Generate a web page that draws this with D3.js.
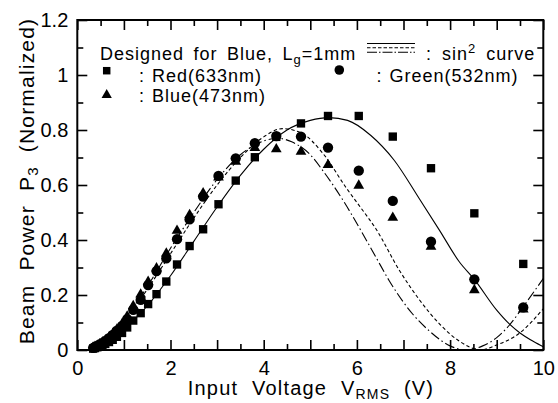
<!DOCTYPE html>
<html>
<head>
<meta charset="utf-8">
<script src="https://cdn.jsdelivr.net/npm/d3@7"></script>
<style>
  body { margin: 0; background: #fff; }
  text { font-family: Arial, "Liberation Sans", sans-serif; fill: #000; }
</style>
</head>
<body>
<svg id="chart"></svg>
<script>
// measured voltages (V rms), shared by the three colours
let volts = [0.34, 0.38, 0.43, 0.48, 0.54, 0.60, 0.68, 0.76, 0.85, 0.96, 1.07, 1.20, 1.36, 1.52, 1.70,
             1.91, 2.14, 2.41, 2.70, 3.03, 3.40, 3.81, 4.27, 4.80, 5.38, 6.04, 6.77, 7.59, 8.52, 9.57]
let redPower = [0.005, 0.007, 0.010, 0.013, 0.017, 0.022, 0.029, 0.037, 0.048, 0.062, 0.082, 0.107, 0.134, 0.167, 0.203,
                0.249, 0.311, 0.378, 0.439, 0.530, 0.616, 0.701, 0.775, 0.824, 0.851, 0.851, 0.776, 0.661, 0.497, 0.313]
let greenPower = [0.008, 0.011, 0.015, 0.020, 0.026, 0.033, 0.043, 0.055, 0.070, 0.088, 0.112, 0.146, 0.182, 0.236, 0.287,
                  0.333, 0.403, 0.475, 0.558, 0.633, 0.697, 0.752, 0.778, 0.776, 0.736, 0.652, 0.542, 0.394, 0.257, 0.155]
let bluePower = [0.009, 0.012, 0.016, 0.021, 0.027, 0.035, 0.046, 0.059, 0.075, 0.095, 0.122, 0.160, 0.202, 0.248, 0.297,
                 0.351, 0.434, 0.491, 0.570, 0.628, 0.685, 0.735, 0.730, 0.721, 0.673, 0.598, 0.481, 0.376, 0.218, 0.148]

// sin^2 curves
let redCurveX = [0.3, 0.6, 1.0, 1.5, 2.0, 2.5, 3.0, 3.5, 4.0, 4.5, 5.0, 5.4, 5.8, 6.3, 6.8, 7.34, 7.77, 8.2, 8.52, 9.0, 9.27, 9.5, 9.8, 10]
let redCurveY = [0, 0.02, 0.075, 0.16, 0.27, 0.395, 0.52, 0.635, 0.73, 0.80, 0.835, 0.845, 0.835, 0.78, 0.69, 0.55, 0.436, 0.32, 0.257, 0.145, 0.095, 0.062, 0.03, 0.012]
let greenCurveX = [0.3, 0.6, 1.0, 1.5, 2.0, 2.5, 3.0, 3.5, 4.0, 4.4, 4.8, 5.27, 5.77, 6.05, 6.41, 6.91, 7.34, 7.8, 8.2, 8.65, 9.0, 9.48, 10]
let greenCurveY = [0, 0.03, 0.105, 0.22, 0.35, 0.48, 0.60, 0.70, 0.775, 0.805, 0.79, 0.715, 0.59, 0.525, 0.44, 0.29, 0.183, 0.09, 0.032, 0, 0.018, 0.06, 0.15]
let blueCurveX = [0.3, 0.6, 1.0, 1.5, 2.0, 2.5, 3.0, 3.5, 4.0, 4.3, 4.6, 5.0, 5.3, 5.7, 6.05, 6.4, 6.7, 7.2, 7.55, 8.0, 8.35, 8.7, 9.0, 9.27, 9.6, 10]
let blueCurveY = [0, 0.03, 0.11, 0.23, 0.37, 0.50, 0.62, 0.71, 0.76, 0.77, 0.757, 0.71, 0.645, 0.545, 0.445, 0.34, 0.25, 0.13, 0.07, 0.015, 0, 0.015, 0.045, 0.09, 0.165, 0.26]

let xMajor = [0, 1, 2, 3, 4, 5, 6, 7, 8, 9, 10]
let xMinor = [0.5, 1.5, 2.5, 3.5, 4.5, 5.5, 6.5, 7.5, 8.5, 9.5]
let yMajor = [0, 0.2, 0.4, 0.6, 0.8, 1, 1.2]
let yMinor = [0.1, 0.3, 0.5, 0.7, 0.9, 1.1]

let W = 558, H = 403
let svg = d3.select("#chart").attr("width", W).attr("height", H)

let x = d3.scaleLinear().domain([0, 10]).range([77.3, 543.3])
let y = d3.scaleLinear().domain([0, 1.2]).range([350, 20])

let fmtX = d => (d % 2 === 0 ? d : "")
let fmtY = d => (Math.round(d * 10) % 2 === 0 ? d3.format("")(+d.toFixed(1)) : "")

let axisGroup = (gen, tx, ty) => {
    let g = svg.append("g").attr("transform", `translate(${tx},${ty})`).call(gen)
    g.select(".domain").remove()
    g.selectAll(".tick line").attr("stroke", "#000").attr("stroke-width", 1.6)
    g.selectAll("text").style("font-size", "20px").attr("fill", "#000")
    return g
}

// bottom / top
axisGroup(d3.axisBottom(x).tickValues(xMajor).tickSize(-10).tickPadding(11).tickFormat(fmtX), 0, 350)
axisGroup(d3.axisBottom(x).tickValues(xMinor).tickSize(-6).tickFormat(""), 0, 350)
axisGroup(d3.axisTop(x).tickValues(xMajor).tickSize(-10).tickFormat(""), 0, 20)
axisGroup(d3.axisTop(x).tickValues(xMinor).tickSize(-6).tickFormat(""), 0, 20)
// left / right
axisGroup(d3.axisLeft(y).tickValues(yMajor).tickSize(-10).tickPadding(9).tickFormat(fmtY), 77.3, 0)
axisGroup(d3.axisLeft(y).tickValues(yMinor).tickSize(-6).tickFormat(""), 77.3, 0)
axisGroup(d3.axisRight(y).tickValues(yMajor).tickSize(-10).tickFormat(""), 543.3, 0)
axisGroup(d3.axisRight(y).tickValues(yMinor).tickSize(-6).tickFormat(""), 543.3, 0)

svg.append("rect")
    .attr("x", x(0)).attr("y", y(1.2))
    .attr("width", x(10) - x(0)).attr("height", y(0) - y(1.2))
    .attr("fill", "none").attr("stroke", "#000").attr("stroke-width", 2)

// fitted curves
let line = d3.line().x(d => x(d[0])).y(d => y(d[1])).curve(d3.curveMonotoneX)
let curves = [
    { xs: redCurveX, ys: redCurveY, dash: null },
    { xs: greenCurveX, ys: greenCurveY, dash: "3.5,2.5" },
    { xs: blueCurveX, ys: blueCurveY, dash: "10,3,1.5,3" }
]
let plot = svg.append("g")
curves.forEach(c => {
    plot.append("path")
        .datum(d3.zip(c.xs, c.ys))
        .attr("d", line)
        .attr("fill", "none")
        .attr("stroke", "#000")
        .attr("stroke-width", 1.1)
        .attr("stroke-dasharray", c.dash)
})

// measured points
let series = [
    { ys: redPower, sym: d3.symbolSquare, size: 70 },
    { ys: greenPower, sym: d3.symbolCircle, size: 84 },
    { ys: bluePower, sym: d3.symbolTriangle, size: 50 }
]
series.forEach(s => {
    plot.selectAll(null)
        .data(d3.zip(volts, s.ys))
        .enter()
        .append("path")
        .attr("d", d3.symbol().type(s.sym).size(s.size))
        .attr("transform", d => `translate(${x(d[0])},${y(d[1])})`)
        .attr("fill", "#000")
})

// legend
let leg = svg.append("g").style("font-size", "18px").style("letter-spacing", "1px")
let t1 = leg.append("text").attr("x", 100).attr("y", 60).style("word-spacing", "3.5px")
t1.append("tspan").text("Designed for Blue, L")
t1.append("tspan").attr("dy", 4).style("font-size", "13px").text("g")
t1.append("tspan").attr("dy", -4).text("=1mm")

let legLines = [{ dy: 43.5, dash: null }, { dy: 47.8, dash: "3.5,2" }, { dy: 52.2, dash: "10,2,1.5,2" }]
legLines.forEach(l => {
    leg.append("line").attr("x1", 367).attr("x2", 415).attr("y1", l.dy).attr("y2", l.dy)
        .attr("stroke", "#000").attr("stroke-width", 1.1).attr("stroke-dasharray", l.dash)
})
let t2 = leg.append("text").attr("x", 426).attr("y", 60).style("word-spacing", "4px")
t2.append("tspan").text(": sin")
t2.append("tspan").attr("dy", -7).style("font-size", "13px").text("2")
t2.append("tspan").attr("dy", 7).text(" curve")

let legItems = [
    { sym: d3.symbolSquare, size: 56, mx: 106.7, my: 70.7, tx: 139, ty: 82, label: "Red(633nm)" },
    { sym: d3.symbolCircle, size: 72, mx: 339.3, my: 70, tx: 376.5, ty: 82, label: "Green(532nm)" },
    { sym: d3.symbolTriangle, size: 46, mx: 106.7, my: 95, tx: 139, ty: 102, label: "Blue(473nm)" }
]
legItems.forEach(it => {
    leg.append("path").attr("d", d3.symbol().type(it.sym).size(it.size))
        .attr("transform", `translate(${it.mx},${it.my})`).attr("fill", "#000")
    leg.append("text").attr("x", it.tx).attr("y", it.ty).text(":")
    leg.append("text").attr("x", it.tx + 13).attr("y", it.ty).text(it.label)
})

// axis titles
let xt = svg.append("text").attr("x", 311).attr("y", 395).attr("text-anchor", "middle")
    .style("font-size", "20px").style("letter-spacing", "1.2px").style("word-spacing", "7px")
xt.append("tspan").text("Input Voltage V")
xt.append("tspan").attr("dy", 4).style("font-size", "14px").text("RMS")
xt.append("tspan").attr("dy", -4).text(" (V)")

let yt = svg.append("text").attr("transform", "translate(34,181) rotate(-90)").attr("text-anchor", "middle")
    .style("font-size", "21px").style("letter-spacing", "1.2px").style("word-spacing", "7px")
yt.append("tspan").text("Beam Power P")
yt.append("tspan").attr("dy", 4).style("font-size", "15px").text("3")
yt.append("tspan").attr("dy", -4).text(" (Normalized)")
</script>
</body>
</html>
